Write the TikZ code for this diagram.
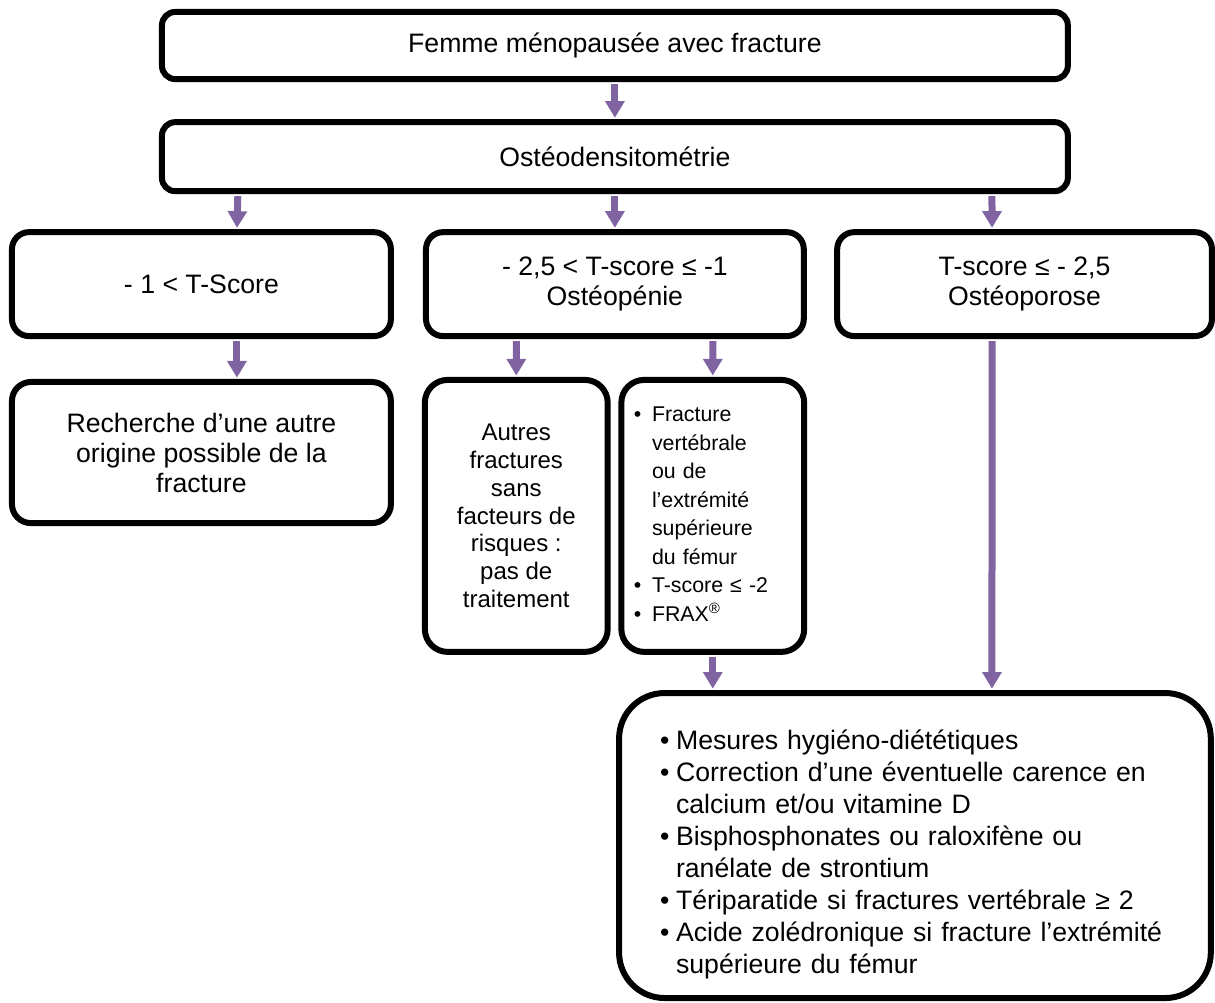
\documentclass[tikz,border=0pt]{standalone}
\usepackage{fontspec}
\setmainfont{Liberation Sans}
\usetikzlibrary{arrows.meta, positioning, calc}

\definecolor{fleche}{RGB}{128,100,162}

\begin{document}
\begin{tikzpicture}[
  box/.style={rectangle, draw, line width=4.5pt, rounded corners=#1, fill=white,
              align=center, inner sep=2mm, font=\fontsize{20}{22.5}\selectfont},
  box/.default=4.5mm,
  arr/.style={draw=fleche, line width=5.25pt, -{Triangle[width=14pt, length=12.5pt]},
              shorten <=1.5pt, shorten >=1pt},
]
\useasboundingbox (0,0) rectangle (32.03,-26.44);

% ---- boîtes ----
\node[box=3.5mm, minimum width=238.8mm, minimum height=17.7mm] (fracture) at (16.21,-1.20) {Femme ménopausée avec fracture};

\node[box=3.5mm, minimum width=238.8mm, minimum height=18.2mm] (odm) at (16.21,-4.13) {Ostéodensitométrie};

\node[box, minimum width=99.9mm, minimum height=27.4mm] (tnormal) at (5.31,-7.49) {- 1 < T-Score};

\node[box, minimum width=99.6mm, minimum height=27.4mm] (tpenie) at (16.21,-7.49) {- 2,5 < T-score ≤ -1\\Ostéopénie};

\node[box, minimum width=98.8mm, minimum height=27.4mm] (tporose) at (27.01,-7.49) {T-score ≤ - 2,5\\Ostéoporose};

\node[box=5mm, minimum width=99.9mm, minimum height=37.2mm] (autre) at (5.31,-11.93) {Recherche d’une autre\\origine possible de la\\fracture};

\node[box=6mm, minimum width=48.2mm, minimum height=71.7mm,
      font=\fontsize{18}{20.8}\selectfont] (sanstt) at (13.61,-13.60)
  {Autres\\fractures\\sans\\facteurs de\\risques :\\pas de\\traitement};

\node[box=6mm, minimum width=48.2mm, minimum height=71.7mm, text width=41.6mm, align=left,
      font=\fontsize{16}{21.4}\selectfont] (criteres) at (18.79,-13.60)
  {\begin{tabular}{@{}l@{\hspace{8pt}}l@{}}
   \textbullet & Fracture\\
               & vertébrale\\
               & ou de\\
               & l’extrémité\\
               & supérieure\\
               & du fémur\\
   \textbullet & T-score ≤ -2\\
   \textbullet & FRAX\textsuperscript{®}
   \end{tabular}};

\node[box=12mm, minimum width=156mm, minimum height=80.4mm, text width=134.4mm, align=left,
      font=\fontsize{20}{24}\selectfont] (ttt) at (24.12,-22.29)
  {\begin{tabular}{@{}l@{\hspace{5pt}}l@{}}\noalign{\vskip 15pt}
   \textbullet & Mesures hygiéno-diététiques\\
   \textbullet & Correction d’une éventuelle carence en\\
               & calcium et/ou vitamine D\\
   \textbullet & Bisphosphonates ou raloxifène ou\\
               & ranélate de strontium\\
   \textbullet & Tériparatide si fractures vertébrale ≥ 2\\
   \textbullet & Acide zolédronique si fracture l’extrémité\\
               & supérieure du fémur
   \end{tabular}};

% ---- flèches ----
\draw[arr] (fracture.south) -- (odm.north);
\draw[arr] ([xshift=-99.4mm]odm.south) -- ([xshift=9.36mm]tnormal.north);
\draw[arr] (odm.south) -- (tpenie.north);
\draw[arr] ([xshift=99.4mm]odm.south) -- ([xshift=-8.57mm]tporose.north);
\draw[arr] ([xshift=9.36mm]tnormal.south) -- ([xshift=9.36mm]autre.north);
\draw[arr] ([xshift=-26mm]tpenie.south) -- (sanstt.north);
\draw[arr] ([xshift=25.8mm]tpenie.south) -- (criteres.north);
\draw[arr] ([xshift=-8.57mm]tporose.south) -- ([xshift=20.3mm]ttt.north);
\draw[arr] (criteres.south) -- ([xshift=-53.3mm]ttt.north);

\end{tikzpicture}
\end{document}
